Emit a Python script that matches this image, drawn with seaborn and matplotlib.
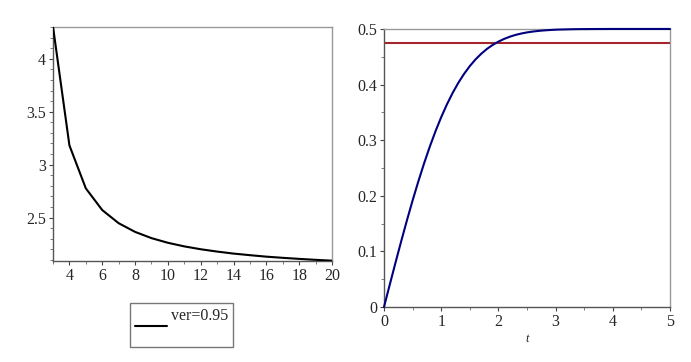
import numpy as np
import pandas as pd
import matplotlib
matplotlib.use("Agg")
import matplotlib.pyplot as plt
import seaborn as sns
from matplotlib.ticker import MultipleLocator

# left panel: quantile vs n
n_vals = [3, 4, 5, 6, 7, 8, 9, 10, 11, 12, 13, 14, 15, 16, 17, 18, 19, 20]
q_vals = [4.303, 3.182, 2.776, 2.571, 2.447, 2.365, 2.306, 2.262, 2.228,
          2.201, 2.179, 2.160, 2.145, 2.131, 2.120, 2.110, 2.101, 2.093]

# right panel: area curve vs t, and the level line
t_vals = [0.0, 0.1, 0.2, 0.3, 0.4, 0.5, 0.6, 0.7, 0.8, 0.9, 1.0, 1.1, 1.2,
          1.3, 1.4, 1.5, 1.6, 1.7, 1.8, 1.9, 2.0, 2.1, 2.2, 2.3, 2.4, 2.5,
          2.6, 2.7, 2.8, 2.9, 3.0, 3.2, 3.4, 3.7, 4.0, 4.5, 5.0]
f_vals = [0.0, 0.0398, 0.0793, 0.1179, 0.1554, 0.1915, 0.2257, 0.2580,
          0.2881, 0.3159, 0.3413, 0.3643, 0.3849, 0.4032, 0.4192, 0.4332,
          0.4452, 0.4554, 0.4641, 0.4713, 0.4772, 0.4821, 0.4861, 0.4893,
          0.4918, 0.4938, 0.4953, 0.4965, 0.4974, 0.4981, 0.4987, 0.4993,
          0.4997, 0.4999, 0.5, 0.5, 0.5]
level = 0.475

sns.set_style("white")
plt.rcParams['font.family'] = ['Liberation Serif', 'DejaVu Serif']
plt.rcParams['font.size'] = 11.5

fig = plt.figure(figsize=(6.91, 3.62), dpi=100)
ax1 = fig.add_axes([0.0767, 0.279, 0.4038, 0.6464])
ax2 = fig.add_axes([0.5557, 0.152, 0.4139, 0.768])

left = pd.DataFrame({'n': n_vals, 'q': q_vals})
sns.lineplot(data=left, x='n', y='q', ax=ax1, color='black', lw=1.5,
             label='ver=0.95\n', legend=False, zorder=3)
ax1.set_xlim(3, 20)
ax1.set_ylim(2.09, 4.3)
ax1.xaxis.set_minor_locator(MultipleLocator(1))
ax1.yaxis.set_minor_locator(MultipleLocator(0.1))
ax1.set_xticks([4, 6, 8, 10, 12, 14, 16, 18, 20])
ax1.set_yticks([2.5, 3, 3.5, 4])
ax1.set_yticklabels(['2.5', '3', '3.5', '4'])
ax1.set_xlabel('')
ax1.set_ylabel('')

right = pd.DataFrame({'t': t_vals, 'f': f_vals})
sns.lineplot(data=right, x='t', y='f', ax=ax2, color='#00007f', lw=1.5,
             clip_on=False, zorder=3)
ax2.axhline(level, color='#a3262e', lw=1.5)
ax2.set_xlim(0, 5)
ax2.set_ylim(0, 0.5)
ax2.xaxis.set_minor_locator(MultipleLocator(0.5))
ax2.yaxis.set_minor_locator(MultipleLocator(0.05))
ax2.set_xticks([0, 1, 2, 3, 4, 5])
ax2.set_yticks([0, 0.1, 0.2, 0.3, 0.4, 0.5])
ax2.set_yticklabels(['0', '0.1', '0.2', '0.3', '0.4', '0.5'])
ax2.set_xlabel('t', fontstyle='italic', fontsize=9, labelpad=2)
ax2.set_ylabel('')

for ax in (ax1, ax2):
    for side in ('top', 'right'):
        ax.spines[side].set_color('#999999')
    for side in ('left', 'bottom'):
        ax.spines[side].set_color('#555555')
    for s in ax.spines.values():
        s.set_linewidth(1.0)
    ax.tick_params(which='major', direction='out', length=3, width=0.8,
                   color='#444444', pad=2, left=True, bottom=True)
    ax.tick_params(which='minor', direction='out', length=2, width=0.6,
                   color='#666666', left=True, bottom=True)

h, l = ax1.get_legend_handles_labels()
leg = fig.legend(h, l, loc='upper left', bbox_to_anchor=(0.188, 0.162),
                 frameon=True, fancybox=False, borderpad=0.3,
                 handlelength=2.0, handletextpad=0.3, borderaxespad=0)
leg.get_frame().set_edgecolor('#555555')
leg.get_frame().set_linewidth(1.0)

fig.savefig('out.png', dpi=100)
